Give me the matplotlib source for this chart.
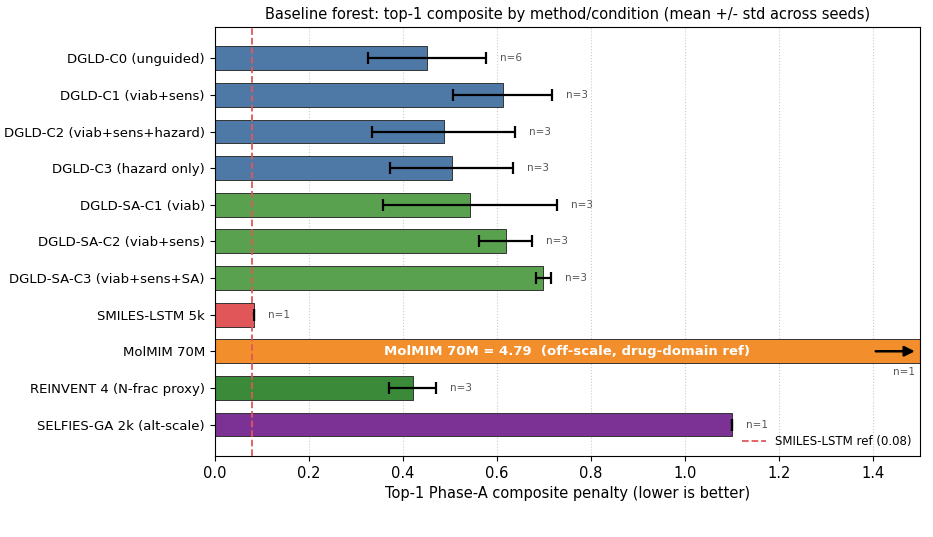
import numpy as np
import matplotlib
matplotlib.use("Agg")
import matplotlib.pyplot as plt

labels = ["DGLD-C0 (unguided)", "DGLD-C1 (viab+sens)", "DGLD-C2 (viab+sens+hazard)",
          "DGLD-C3 (hazard only)", "DGLD-SA-C1 (viab)", "DGLD-SA-C2 (viab+sens)",
          "DGLD-SA-C3 (viab+sens+SA)", "SMILES-LSTM 5k", "MolMIM 70M",
          "REINVENT 4 (N-frac proxy)", "SELFIES-GA 2k (alt-scale)"]
means = [0.452, 0.613, 0.487, 0.504, 0.543, 0.619, 0.699, 0.083, 4.79, 0.421, 1.10]
stds = [0.126, 0.105, 0.152, 0.131, 0.185, 0.056, 0.016, 0.0, 0.0, 0.050, 0.0]
counts = [6, 3, 3, 3, 3, 3, 3, 1, 1, 3, 1]
colors = ["#4e79a7"] * 4 + ["#59a14f"] * 3 + ["#e15759", "#f28e2b", "#3a8a3a", "#7b3294"]
lstm_ref = 0.08
xmax = 1.5

fig, ax = plt.subplots(figsize=(9.33, 5.37), dpi=100)
y = np.arange(len(labels))
shown = [min(m, xmax) for m in means]
ax.barh(y, shown, height=0.65, color=colors, edgecolor="#333333", linewidth=0.7, zorder=2)

for i, (m, s, n) in enumerate(zip(means, stds, counts)):
    if m > xmax:
        # off-scale bar: label inside, arrow at the right edge
        ax.text(xmax / 2, i, f"{labels[i]} = {m:.2f}  (off-scale, drug-domain ref)",
                ha="center", va="center", color="white", fontweight="bold", fontsize=9.5, zorder=4)
        ax.annotate("", xy=(xmax - 0.005, i), xytext=(xmax - 0.1, i),
                    arrowprops=dict(arrowstyle="-|>", color="black", lw=1.8, mutation_scale=15), zorder=4)
        ax.text(xmax - 0.01, i + 0.57, f"n={n}", ha="right", va="center", fontsize=7.5, color="#555555")
        continue
    ax.errorbar(m, i, xerr=s, fmt="none", ecolor="black", elinewidth=1.6, capsize=4, capthick=1.6, zorder=3)
    ax.text(m + s + 0.03, i, f"n={n}", ha="left", va="center", fontsize=7.5, color="#555555")

ax.axvline(lstm_ref, color="#e15759", linestyle="--", linewidth=1.3, label=f"SMILES-LSTM ref ({lstm_ref:.2f})", zorder=3)
ax.set_yticks(y)
ax.set_yticklabels(labels, fontsize=9.5)
ax.invert_yaxis()
ax.set_xlim(0, xmax)
ax.tick_params(axis="x", labelsize=10.5)
ax.set_xlabel("Top-1 Phase-A composite penalty (lower is better)", fontsize=10.5)
ax.set_title("Baseline forest: top-1 composite by method/condition (mean +/- std across seeds)", fontsize=10.5)
ax.grid(axis="x", linestyle=":", color="#cccccc", linewidth=0.8, zorder=0)
ax.set_axisbelow(True)
ax.legend(loc="lower right", frameon=False, fontsize=8.5, borderaxespad=0.3)

fig.subplots_adjust(left=0.23, right=0.986, top=0.95, bottom=0.151)
fig.savefig("out.png", dpi=100)
